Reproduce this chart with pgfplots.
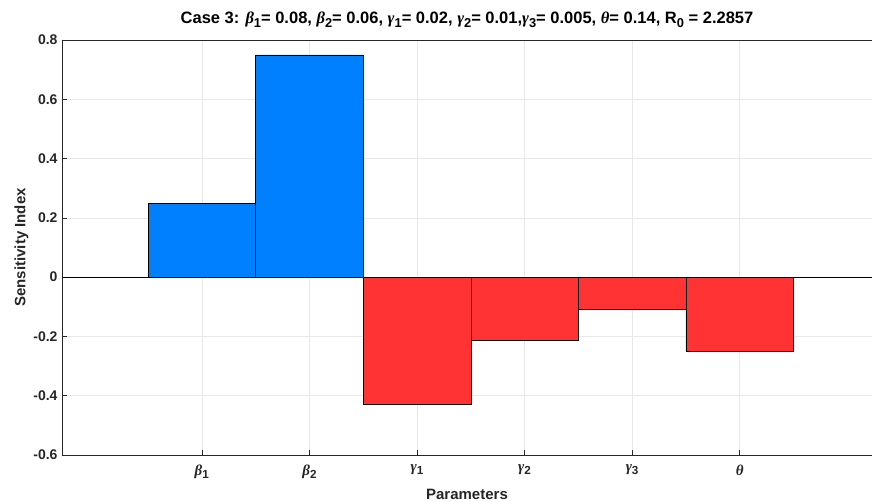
\documentclass[border=0pt]{standalone}
\usepackage{fontspec}
\setmainfont{Liberation Sans}
\newfontfamily\grk{Liberation Serif}
\usepackage{graphicx}
\usepackage{pgfplots}
\pgfplotsset{compat=1.18}
\definecolor{barblue}{RGB}{0,128,255}
\definecolor{barred}{RGB}{255,51,51}
\definecolor{axgray}{RGB}{38,38,38}
\newcommand{\g}[2]{{\grk\itshape #1}\raisebox{-0.45ex}{\scalebox{0.78}{#2}}}
\begin{document}
\begin{tikzpicture}
\begin{axis}[
  at={(0,0)}, anchor=south west,
  scale only axis, width=810pt, height=415pt,
  xmin=-0.3, xmax=7.23, ymin=-0.6, ymax=0.8,
  axis lines=left, axis line style={-, axgray, line width=0.7pt},
  xtick={1,2,3,4,5,6},
  xticklabels={\g{β}{1},\g{β}{2},\g{γ}{1},\g{γ}{2},\g{γ}{3},{\bfseries\grk\itshape θ}},
  ytick={-0.6,-0.4,-0.2,0,0.2,0.4,0.6,0.8},
  yticklabels={-0.6,-0.4,-0.2,0,0.2,0.4,0.6,0.8},
  tick align=inside, major tick length=5pt,
  tick style={axgray, line width=0.6pt},
  grid=major, major grid style={gray!18, line width=0.5pt},
  ticklabel style={font=\bfseries\fontsize{14}{16}\selectfont, text=axgray},
  xticklabel style={yshift=-6pt, font=\bfseries\fontsize{15}{17}\selectfont},
  yticklabel style={xshift=-1pt},
  title={Case 3: \g{β}{1}= 0.08, \g{β}{2}= 0.06, \g{γ}{1}= 0.02, \g{γ}{2}= 0.01,\g{γ}{3}= 0.005, {\grk\itshape θ}= 0.14, R\raisebox{-0.45ex}{\scalebox{0.78}{0}} = 2.2857},
  title style={font=\bfseries\fontsize{16.5}{18}\selectfont, yshift=3pt},
  xlabel={Parameters},
  ylabel={Sensitivity Index},
  label style={font=\bfseries\fontsize{15}{17}\selectfont, text=axgray},
  xlabel style={yshift=-4pt},
  ylabel style={yshift=-2pt},
]
\addplot[ybar, bar width=1, bar shift=0pt, fill=barblue, draw=black, line width=0.5pt]
  coordinates {(1,0.25) (2,0.75)};
\addplot[ybar, bar width=1, bar shift=0pt, fill=barred, draw=black, line width=0.5pt]
  coordinates {(3,-0.4286) (4,-0.2143) (5,-0.1071) (6,-0.25)};
\draw[black, line width=0.6pt] (axis cs:-0.3,0) -- (axis cs:7.23,0);
\draw[axgray, line width=0.7pt] (rel axis cs:0,1) -- (rel axis cs:1,1);
\end{axis}
\pgfresetboundingbox
\path (-62pt,-47pt) rectangle (810pt,455pt);
\end{tikzpicture}
\end{document}
